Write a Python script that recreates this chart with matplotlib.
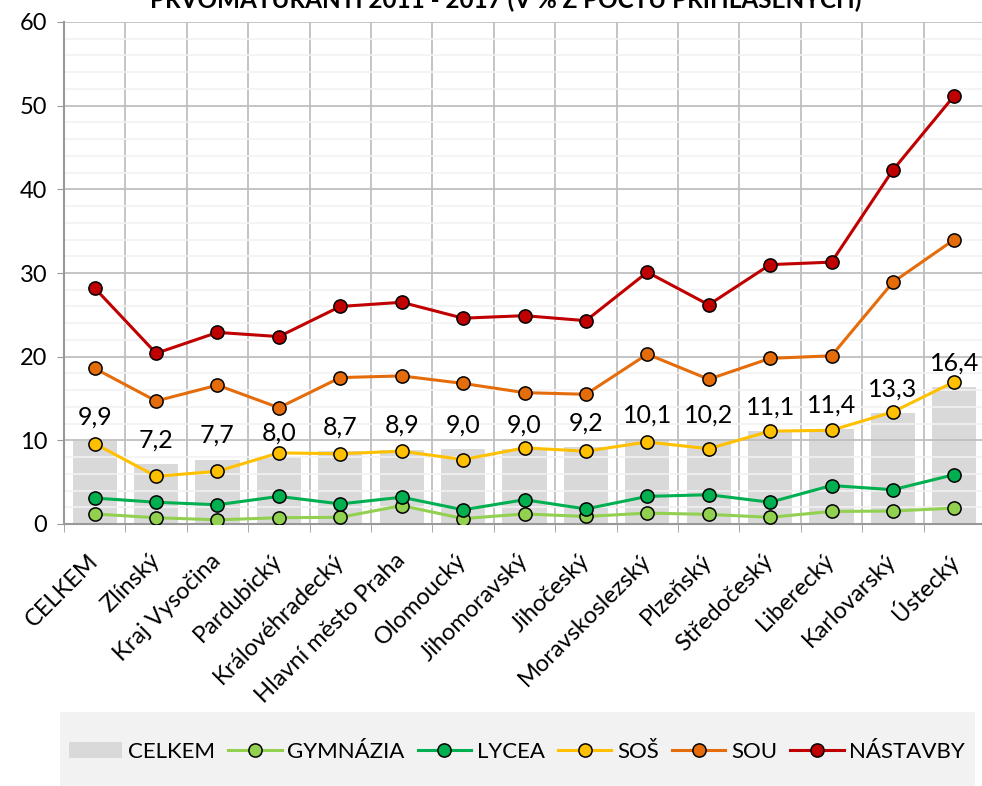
import matplotlib.pyplot as plt
import numpy as np
from matplotlib.patches import Patch, Rectangle
from matplotlib.lines import Line2D

plt.rcParams['font.family'] = ['Lato', 'DejaVu Sans']

# Data
regions = [
    "CELKEM", "Zlínský", "Kraj Vysočina", "Pardubický", "Královéhradecký",
    "Hlavní město Praha", "Olomoucký", "Jihomoravský", "Jihočeský",
    "Moravskoslezský", "Plzeňský", "Středočeský", "Liberecký", "Karlovarský",
    "Ústecký"
]

celkem = [9.9, 7.2, 7.7, 8.0, 8.7, 8.9, 9.0, 9.0, 9.2, 10.1, 10.2, 11.1, 11.4, 13.3, 16.4]
gymnazia = [1.2, 0.75, 0.5, 0.75, 0.8, 2.2, 0.65, 1.2, 0.9, 1.3, 1.15, 0.8, 1.5, 1.55, 1.9]
lycea = [3.1, 2.6, 2.3, 3.3, 2.4, 3.2, 1.7, 2.9, 1.8, 3.3, 3.5, 2.6, 4.6, 4.1, 5.9]
sos = [9.6, 5.7, 6.3, 8.5, 8.4, 8.7, 7.7, 9.1, 8.7, 9.8, 9.0, 11.1, 11.2, 13.4, 17.0]
sou = [18.6, 14.7, 16.6, 13.9, 17.5, 17.7, 16.8, 15.7, 15.5, 20.3, 17.3, 19.8, 20.1, 28.9, 34.0]
nastavby = [28.2, 20.4, 22.9, 22.4, 26.0, 26.5, 24.6, 24.9, 24.3, 30.1, 26.2, 31.0, 31.3, 42.3, 51.2]

series = [
    ("GYMNÁZIA", gymnazia, "#92d050"),
    ("LYCEA", lycea, "#00b050"),
    ("SOŠ", sos, "#ffc000"),
    ("SOU", sou, "#e46c0a"),
    ("NÁSTAVBY", nastavby, "#c00000"),
]

W, H = 982, 786
fig = plt.figure(figsize=(W / 100, H / 100), dpi=100)
ax = fig.add_axes([64 / W, 1 - 524 / H, (985 - 64) / W, (524 - 22) / H])

x = np.arange(len(regions))
ax.bar(x, celkem, width=0.72, color="#d9d9d9", zorder=1)

for name, vals, col in series:
    ax.plot(x, vals, color=col, lw=2.2, marker="o", ms=9.5, mfc=col,
            mec="black", mew=1.1, zorder=3)

# value labels above the bars
for i, v in enumerate(celkem):
    ax.annotate(f"{v:.1f}".replace(".", ","), (i, v), xytext=(0, 9),
                textcoords="offset points", ha="center", va="bottom",
                fontsize=18, color="black", zorder=4)

ax.set_xlim(-0.5, len(regions) - 0.5)
ax.set_ylim(0, 60)
ax.set_yticks(range(0, 61, 10))
ax.set_yticks(range(0, 61, 2), minor=True)
ax.set_xticks(x)
ax.set_xticks(np.arange(-0.5, len(regions), 1), minor=True)
ax.set_xticklabels(regions, rotation=45, ha="right", va="center",
                   rotation_mode="anchor", fontsize=17)
ax.tick_params(axis="y", which="major", labelsize=17, length=5, color="#999999", pad=7)
ax.tick_params(axis="y", which="minor", length=0)
ax.tick_params(axis="x", which="major", length=0, pad=24)
ax.tick_params(axis="x", which="minor", length=6, color="#999999")

ax.set_axisbelow("line")
ax.yaxis.grid(True, which="major", color="#bfbfbf", lw=1.3)
ax.yaxis.grid(True, which="minor", color="#f2f2f2", lw=1.2)
ax.xaxis.grid(True, which="minor", color="#bfbfbf", lw=1.3)
ax.xaxis.grid(False, which="major")

for s in ["top", "right"]:
    ax.spines[s].set_visible(False)
for s in ["left", "bottom"]:
    ax.spines[s].set_color("#999999")
    ax.spines[s].set_linewidth(1.5)

# title (partly cut off at the top edge, as in the source)
fig.text(0.515, 1 - 7 / H, "PRVOMATURANTI 2011 - 2017 (V % Z POČTU PŘIHLÁŠENÝCH)",
         ha="center", va="baseline", fontsize=17.5, fontweight="bold")

# legend box
fig.patches.append(Rectangle((60 / W, 0), (975 - 60) / W, 1 - 712 / H,
                             transform=fig.transFigure, facecolor="#f2f2f2",
                             edgecolor="none", zorder=0))
handles = [Patch(facecolor="#d9d9d9", edgecolor="none", label="CELKEM")]
for name, vals, col in series:
    handles.append(Line2D([], [], color=col, lw=2.2, marker="o", ms=9.5, mfc=col,
                          mec="black", mew=1.1, label=name))
fig.legend(handles=handles, loc="center", bbox_to_anchor=(517 / W, 1 - 752 / H),
           ncol=6, frameon=False, fontsize=16, handlelength=2.4,
           handletextpad=0.25, columnspacing=0.6, borderaxespad=0)

fig.savefig("out.png", dpi=100)
